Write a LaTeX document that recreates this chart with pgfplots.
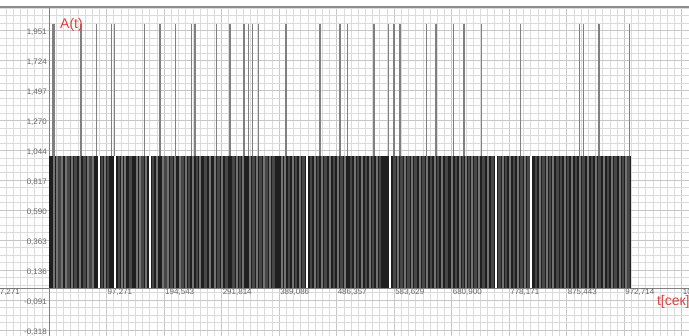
\documentclass[border=0pt]{standalone}
\usepackage{pgfplots}
\pgfplotsset{compat=1.18}
\usepackage{fontspec}
\setmainfont{Liberation Sans}
\definecolor{lbl}{RGB}{225,64,64}
\begin{document}
\begin{tikzpicture}
\begin{axis}[
  name=ax,
  scale only axis,
  width=689pt, height=329pt,
  xmin=-82.9, xmax=1082.4,
  ymin=-0.3636, ymax=2.1288,
  axis lines=middle,
  axis line style={-, black!50, line width=0.9pt},
  xtick={0,97.271,194.543,291.814,389.086,486.357,583.629,680.900,778.171,875.443,972.714,1069.985},
  xticklabels={0{,}000,97{,}271,194{,}543,291{,}814,389{,}086,486{,}357,583{,}629,680{,}900,778{,}171,875{,}443,972{,}714,1069{,}985},
  ytick={-0.318,-0.091,0.136,0.363,0.590,0.817,1.044,1.270,1.497,1.724,1.951},
  yticklabels={-0{,}318,-0{,}091,0{,}136,0{,}363,0{,}590,0{,}817,1{,}044,1{,}270,1{,}497,1{,}724,1{,}951},
  minor xtick={-85.112,-72.953,...,1085},
  minor ytick={-0.31800,-0.26128,...,2.15},
  grid=both,
  major grid style={black!22, line width=0.5pt},
  minor grid style={black!14, line width=0.5pt},
  major tick length=0pt, minor tick length=0pt,
  tick label style={font=\fontsize{8}{9}\selectfont, text=black!60},
  xticklabel style={anchor=north west, inner sep=1pt},
  yticklabel style={anchor=east, inner sep=2pt, yshift=-2pt},
  clip mode=individual,
  axis on top=false,
]
% tall spikes (value 2)
\addplot[ycomb, draw=black!50, line width=1.2pt, mark=none] coordinates {
(5.6,2)(8.5,2)(54.1,2)(80.7,2)(106.0,2)(110.4,2)(161.2,2)(187.7,2)(214.2,2)
(241.3,2)(246.9,2)(283.6,2)(306.1,2)(329.8,2)(337.1,2)(343.8,2)(354.0,2)
(400.8,2)(458.3,2)(492.1,2)(504.5,2)(549.6,2)(574.5,2)(583.4,2)(593.6,2)
(638.8,2)(654.5,2)(683.8,2)(701.9,2)(731.8,2)(797.8,2)(897.5,2)(904.3,2)
(930.2,2)(982.1,2)};
% dense pulse train (value 1)
\addplot[fill=black!88, draw=none, mark=none] coordinates {(0,1)(984,1)} \closedcycle;
% mid-grey stripes
\addplot[ycomb, draw=black!72, line width=2.5pt, mark=none] coordinates {
(18,1)(33,1)(45,1)(60,1)(70,1)(90,1)(100,1)(118,1)(138,1)(158,1)(176,1)
(197,1)(207,1)(226,1)(237,1)(250,1)(265,1)(287,1)(300,1)(312,1)(323,1)
(346,1)(358,1)(368,1)(380,1)(406,1)(418,1)(430,1)(443,1)(455,1)(468,1)
(482,1)(495,1)(511,1)(523,1)(536,1)(548,1)(560,1)(584,1)(596,1)(608,1)
(620,1)(633,1)(646,1)(658,1)(672,1)(688,1)(700,1)(710,1)(721,1)(735,1)
(750,1)(762,1)(773,1)(786,1)(799,1)(811,1)(824,1)(836,1)(847,1)(860,1)
(866,1)(878,1)(891,1)(904,1)(918,1)(931,1)(945,1)(958,1)(971,1)(980,1)};
% lighter stripes inside the pulse train
\addplot[ycomb, draw=black!55, line width=1.4pt, mark=none] coordinates {
(8.5,1)(13.5,1)(22.0,1)(28.8,1)(38.9,1)(52.4,1)(66.0,1)(74.4,1)(94.7,1)
(123.5,1)(128.5,1)(148.8,1)(153.9,1)(164.0,1)(182.6,1)(192.8,1)(201.3,1)
(213.1,1)(221.5,1)(231.7,1)(243.5,1)(255.4,1)(272.3,1)(280.7,1)(292.6,1)
(317.9,1)(328.1,1)(339.9,1)(351.8,1)(363.6,1)(373.8,1)(394.1,1)(399.1,1)
(412.7,1)(424.5,1)(449.9,1)(461.7,1)(475.2,1)(488.8,1)(500.6,1)(517.5,1)
(529.3,1)(542.9,1)(554.7,1)(590.2,1)(602.1,1)(613.9,1)(627.4,1)(639.3,1)
(652.8,1)(664.6,1)(681.5,1)(695.1,1)(705.3,1)(715.4,1)(727.2,1)(742.4,1)
(767.8,1)(779.6,1)(793.2,1)(805.0,1)(830.4,1)(842.2,1)(852.4,1)(872.7,1)
(884.5,1)(898.0,1)(911.6,1)(925.1,1)(938.6,1)(952.2,1)(965.7,1)(975.8,1)};
% light gaps
\addplot[ycomb, draw=white, line width=1.1pt, mark=none] coordinates {
(84.6,1)(111.6,1)(170.8,1)(436.3,1)(576.7,1)(756.0,1)(815.2,1)};
\draw[black!45, line width=1.2pt] (rel axis cs:0,1) -- (rel axis cs:1,1);
\node[anchor=north west, inner sep=1pt, font=\fontsize{8}{9}\selectfont, text=black!60] at (axis cs:-97.271,0) {-97,271};
\node[anchor=west, inner sep=0pt, text=lbl, font=\fontsize{14}{16}\selectfont] at (axis cs:18.6,1.995) {A(t)};
\node[anchor=west, inner sep=0pt, text=lbl, font=\fontsize{14}{16}\selectfont] at (axis cs:1028,-0.106) {t[сек]};
\end{axis}
\pgfresetboundingbox
\path[use as bounding box] (ax.south west) rectangle ([yshift=7pt]ax.north east);
\end{tikzpicture}
\end{document}
